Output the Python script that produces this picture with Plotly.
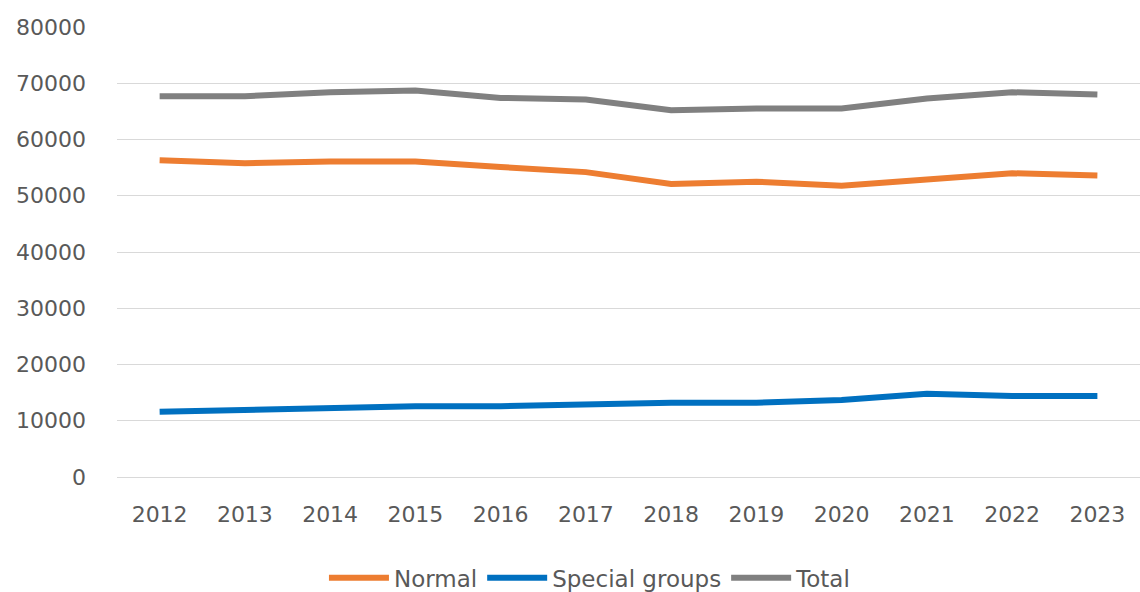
import plotly.graph_objects as go

years = ["2012", "2013", "2014", "2015", "2016", "2017", "2018", "2019", "2020", "2021", "2022", "2023"]
normal = [56300, 55800, 56100, 56100, 55100, 54200, 52100, 52500, 51800, 52900, 54000, 53600]
special = [11600, 11900, 12200, 12600, 12600, 12900, 13200, 13200, 13700, 14800, 14400, 14400]
total = [67700, 67700, 68400, 68700, 67400, 67100, 65200, 65500, 65500, 67300, 68400, 68000]

y_ticks = [0, 10000, 20000, 30000, 40000, 50000, 60000, 70000, 80000]

series = [
    ("Normal", normal, "#ED7D31"),
    ("Special groups", special, "#0070C0"),
    ("Total", total, "#808080"),
]

fig = go.Figure()
for name, vals, color in series:
    fig.add_trace(go.Scatter(
        x=years, y=vals, name=name, mode="lines",
        line=dict(color=color, width=6),
    ))

fig.update_layout(
    width=1140, height=592,
    margin=dict(l=117, r=0, t=27, b=115),
    paper_bgcolor="white", plot_bgcolor="white",
    font=dict(family="DejaVu Sans", color="#595959", size=22),
    showlegend=True,
    legend=dict(
        orientation="h", xref="container", yref="container",
        x=0.5175, y=0.024, xanchor="center", yanchor="middle",
        font=dict(size=23, color="#595959"),
        itemwidth=60, tracegroupgap=0,
    ),
    xaxis=dict(
        type="category", range=[-0.5, 11.5],
        showgrid=False, showline=False, ticks="", ticklen=0,
        ticklabelstandoff=22,
        tickfont=dict(size=22, color="#595959"),
    ),
    yaxis=dict(
        range=[0, 80000], tickvals=y_ticks, ticktext=[str(v) for v in y_ticks],
        showgrid=True, gridcolor="#D9D9D9", gridwidth=1,
        zeroline=True, zerolinecolor="#D9D9D9", zerolinewidth=1,
        showline=False, ticks="", ticklabelstandoff=30,
        tickfont=dict(size=22, color="#595959"),
    ),
)

fig.write_html("out.html")
